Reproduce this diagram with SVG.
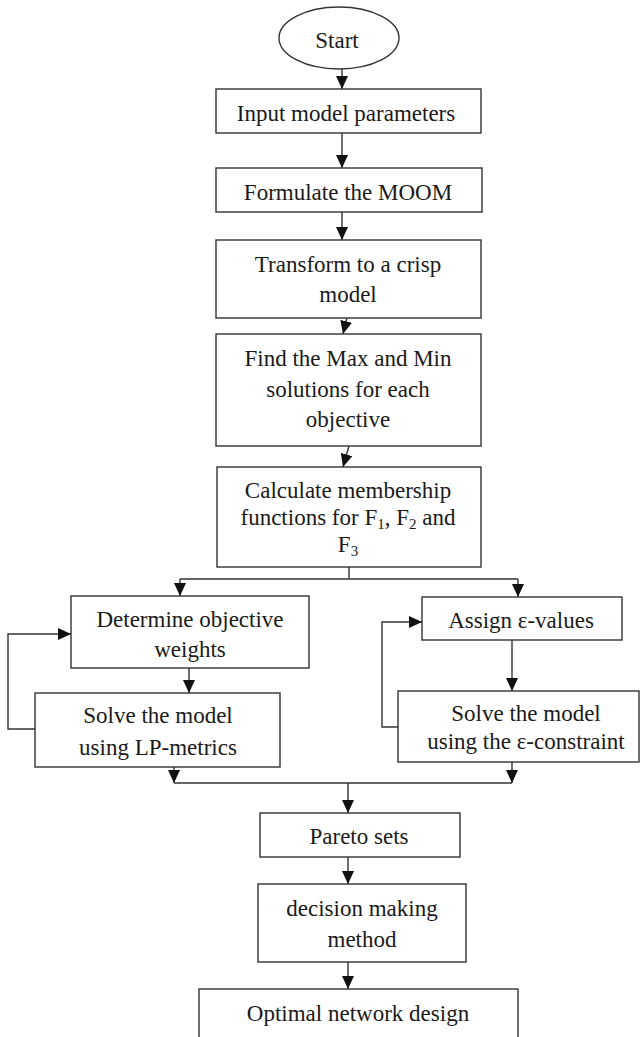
<svg xmlns="http://www.w3.org/2000/svg" width="641" height="1037" viewBox="0 0 641 1037">
<defs>
<style>
.box{fill:#fff;stroke:#333;stroke-width:1.4}
.ln{fill:none;stroke:#333;stroke-width:1.4}
.t{font-family:"Liberation Serif","Times New Roman",serif;font-size:23px;fill:#1a1a1a;text-anchor:middle}
.sub{font-size:15px}
</style>
<marker id="ah" viewBox="0 0 13 12" refX="13" refY="6" markerWidth="13" markerHeight="12" markerUnits="userSpaceOnUse" orient="auto">
<path d="M0,0 L13,6 L0,12 z" fill="#111"/>
</marker>
</defs>
<rect width="641" height="1037" fill="#fff"/>

<g id="connectors">
<line class="ln" x1="342" y1="69" x2="342" y2="89" marker-end="url(#ah)"/>
<line class="ln" x1="342" y1="133" x2="342" y2="168" marker-end="url(#ah)"/>
<line class="ln" x1="342" y1="212" x2="342" y2="240" marker-end="url(#ah)"/>
<line class="ln" x1="347" y1="318" x2="343" y2="334" marker-end="url(#ah)"/>
<line class="ln" x1="349" y1="446" x2="343" y2="467" marker-end="url(#ah)"/>
<polyline class="ln" points="349,567 349,579"/>
<polyline class="ln" points="180,579 518,579"/>
<line class="ln" x1="180" y1="579" x2="180" y2="596" marker-end="url(#ah)"/>
<line class="ln" x1="518" y1="579" x2="518" y2="597" marker-end="url(#ah)"/>
<line class="ln" x1="189" y1="668" x2="189" y2="693" marker-end="url(#ah)"/>
<polyline class="ln" points="35,729 8,729 8,634 71,634" marker-end="url(#ah)"/>
<line class="ln" x1="512" y1="640" x2="512" y2="691" marker-end="url(#ah)"/>
<polyline class="ln" points="398,727 382,727 382,622 422,622" marker-end="url(#ah)"/>
<line class="ln" x1="174" y1="767" x2="174" y2="783" marker-end="url(#ah)"/>
<line class="ln" x1="512" y1="762" x2="512" y2="783" marker-end="url(#ah)"/>
<polyline class="ln" points="174,783 512,783"/>
<line class="ln" x1="348" y1="783" x2="348" y2="813" marker-end="url(#ah)"/>
<line class="ln" x1="348" y1="857" x2="348" y2="884" marker-end="url(#ah)"/>
<line class="ln" x1="348" y1="962" x2="348" y2="989" marker-end="url(#ah)"/>
</g>

<g id="start">
<ellipse class="box" cx="339" cy="38" rx="60" ry="31"/>
<text class="t" x="337" y="48">Start</text>
</g>

<g id="input">
<rect class="box" x="216" y="89" width="265" height="44"/>
<text class="t" x="346" y="121">Input model parameters</text>
</g>

<g id="formulate">
<rect class="box" x="216" y="168" width="266" height="44"/>
<text class="t" x="348" y="200">Formulate the MOOM</text>
</g>

<g id="transform">
<rect class="box" x="216" y="240" width="265" height="78"/>
<text class="t" x="348" y="272">Transform to a crisp</text>
<text class="t" x="348" y="302">model</text>
</g>

<g id="find">
<rect class="box" x="216" y="334" width="265" height="112"/>
<text class="t" x="348" y="366">Find the Max and Min</text>
<text class="t" x="348" y="397">solutions for each</text>
<text class="t" x="348" y="427">objective</text>
</g>

<g id="calculate">
<rect class="box" x="217" y="467" width="264" height="100"/>
<text class="t" x="348" y="498">Calculate membership</text>
<text class="t" x="348" y="525">functions for F<tspan class="sub" dy="4">1</tspan><tspan dy="-4">, F</tspan><tspan class="sub" dy="4">2</tspan><tspan dy="-4"> and</tspan></text>
<text class="t" x="348" y="552">F<tspan class="sub" dy="4">3</tspan></text>
</g>

<g id="determine">
<rect class="box" x="71" y="596" width="238" height="72"/>
<text class="t" x="190" y="627">Determine objective</text>
<text class="t" x="190" y="657">weights</text>
</g>

<g id="solve-lp">
<rect class="box" x="35" y="693" width="245" height="74"/>
<text class="t" x="158" y="723">Solve the model</text>
<text class="t" x="158" y="755">using LP-metrics</text>
</g>

<g id="assign">
<rect class="box" x="422" y="597" width="200" height="43"/>
<text class="t" x="521" y="628">Assign ε-values</text>
</g>

<g id="solve-eps">
<rect class="box" x="398" y="691" width="241" height="71"/>
<text class="t" x="526" y="721">Solve the model</text>
<text class="t" x="526" y="749">using the ε-constraint</text>
</g>

<g id="pareto">
<rect class="box" x="260" y="813" width="200" height="44"/>
<text class="t" x="359" y="844">Pareto sets</text>
</g>

<g id="decision">
<rect class="box" x="258" y="884" width="208" height="78"/>
<text class="t" x="362" y="916">decision making</text>
<text class="t" x="362" y="947">method</text>
</g>

<g id="optimal">
<rect class="box" x="199" y="989" width="319" height="60"/>
<text class="t" x="358" y="1021">Optimal network design</text>
</g>
</svg>
